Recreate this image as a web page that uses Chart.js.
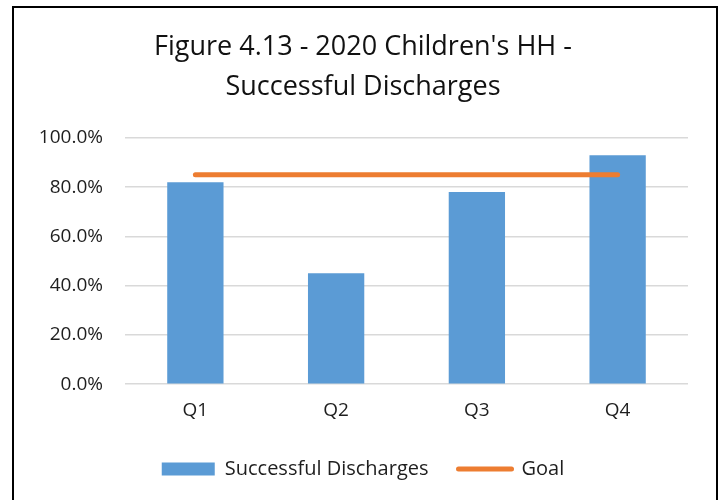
<!DOCTYPE html>
<html>
<head>
<meta charset="utf-8">
<script src="https://cdn.jsdelivr.net/npm/chart.js@4.4.1/dist/chart.umd.min.js"></script>
<style>
  html, body { margin: 0; padding: 0; background: #fff; }
  #wrap { position: relative; width: 719px; height: 500px; }
  #frame {
    position: absolute; left: 12px; top: 6px; width: 702px; height: 520px;
    border: 2px solid #000; pointer-events: none;
  }
</style>
</head>
<body>
<div id="wrap">
  <canvas id="chart" width="719" height="500"></canvas>
  <div id="frame"></div>
</div>
<script>
const quarters = ['Q1', 'Q2', 'Q3', 'Q4'];
const successRates = [0.82, 0.45, 0.78, 0.93];
const goalRates = [0.85, 0.85, 0.85, 0.85];
const titleLines = ["Figure 4.13 - 2020 Children's HH -", 'Successful Discharges'];

const FONT = "'Open Sans', 'Liberation Sans', sans-serif";
const pctFormat = new Intl.NumberFormat('en-US', { style: 'percent', minimumFractionDigits: 1, maximumFractionDigits: 1 });

new Chart(document.getElementById('chart'), {
  data: {
    labels: quarters,
    datasets: [
      {
        type: 'line',
        label: 'Goal',
        data: goalRates,
        borderColor: '#ED7D31',
        backgroundColor: '#ED7D31',
        borderWidth: 5,
        borderCapStyle: 'round',
        pointRadius: 0,
        order: 0
      },
      {
        type: 'bar',
        label: 'Successful Discharges',
        data: successRates,
        backgroundColor: '#5B9BD5',
        borderWidth: 0,
        barPercentage: 0.4,
        categoryPercentage: 1,
        order: 1
      }
    ]
  },
  options: {
    responsive: false,
    animation: false,
    layout: { padding: { left: 38, right: 31, top: 27, bottom: 11 } },
    scales: {
      x: {
        grid: { display: false },
        border: { display: false },
        ticks: { color: '#1e1e1e', font: { family: FONT, size: 19 }, padding: 7 }
      },
      y: {
        min: 0,
        max: 1,
        // keep the value axis a fixed width so the plot starts where the labels end
        afterFit(scale) { scale.width = 87; },
        ticks: {
          stepSize: 0.2,
          color: '#1e1e1e',
          padding: 22,
          font: { family: FONT, size: 19 },
          callback: (value) => pctFormat.format(value)
        },
        grid: { color: '#d9d9d9', lineWidth: 1.5, drawTicks: false },
        border: { display: false }
      }
    },
    plugins: {
      title: {
        display: true,
        text: titleLines,
        color: '#111',
        font: { family: FONT, size: 27, weight: 'normal', lineHeight: 1.48 },
        padding: { top: 0, bottom: 31 }
      },
      legend: {
        position: 'bottom',
        reverse: true,
        labels: {
          color: '#1e1e1e',
          font: { family: FONT, size: 20 },
          usePointStyle: true,
          pointStyleWidth: 53,
          boxHeight: 13,
          padding: 30,
          generateLabels(chart) {
            const items = Chart.defaults.plugins.legend.labels.generateLabels(chart);
            return items.map((item) => {
              const ds = chart.data.datasets[item.datasetIndex];
              if (ds.type === 'line') {
                item.pointStyle = 'line';
                item.lineWidth = 5;
                item.lineCap = 'round';
              } else {
                item.pointStyle = 'rect';
                item.lineWidth = 0;
              }
              return item;
            });
          }
        }
      },
      tooltip: { enabled: false }
    }
  }
});
</script>
</body>
</html>
